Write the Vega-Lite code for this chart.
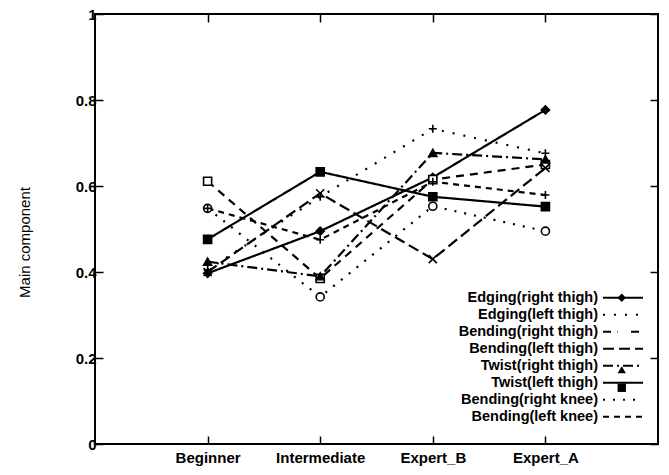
{
  "$schema": "https://vega.github.io/schema/vega-lite/v6.json",
  "width": 563,
  "height": 430,
  "autosize": "none",
  "padding": {"left": 95, "top": 14, "right": 11, "bottom": 31},
  "background": "white",
  "config": {
    "view": {"stroke": "black", "strokeWidth": 2},
    "font": "Liberation Sans",
    "axis": {"grid": false, "domain": false, "tickColor": "black", "tickWidth": 1.5, "labelColor": "black", "titleColor": "black"},
    "legend": {"symbolStrokeColor": "black"}
  },
  "data": {
    "values": [
      {"series": "Edging(right thigh)", "level": "Beginner", "value": 0.397},
      {"series": "Edging(right thigh)", "level": "Intermediate", "value": 0.495},
      {"series": "Edging(right thigh)", "level": "Expert_B", "value": 0.62},
      {"series": "Edging(right thigh)", "level": "Expert_A", "value": 0.777},
      {"series": "Edging(left thigh)", "level": "Beginner", "value": 0.405},
      {"series": "Edging(left thigh)", "level": "Intermediate", "value": 0.575},
      {"series": "Edging(left thigh)", "level": "Expert_B", "value": 0.733},
      {"series": "Edging(left thigh)", "level": "Expert_A", "value": 0.676},
      {"series": "Bending(right thigh)", "level": "Beginner", "value": 0.611},
      {"series": "Bending(right thigh)", "level": "Intermediate", "value": 0.385},
      {"series": "Bending(right thigh)", "level": "Expert_B", "value": 0.615},
      {"series": "Bending(right thigh)", "level": "Expert_A", "value": 0.65},
      {"series": "Bending(left thigh)", "level": "Beginner", "value": 0.4},
      {"series": "Bending(left thigh)", "level": "Intermediate", "value": 0.583},
      {"series": "Bending(left thigh)", "level": "Expert_B", "value": 0.43},
      {"series": "Bending(left thigh)", "level": "Expert_A", "value": 0.642},
      {"series": "Twist(right thigh)", "level": "Beginner", "value": 0.424},
      {"series": "Twist(right thigh)", "level": "Intermediate", "value": 0.39},
      {"series": "Twist(right thigh)", "level": "Expert_B", "value": 0.677},
      {"series": "Twist(right thigh)", "level": "Expert_A", "value": 0.662},
      {"series": "Twist(left thigh)", "level": "Beginner", "value": 0.476},
      {"series": "Twist(left thigh)", "level": "Intermediate", "value": 0.633},
      {"series": "Twist(left thigh)", "level": "Expert_B", "value": 0.575},
      {"series": "Twist(left thigh)", "level": "Expert_A", "value": 0.552},
      {"series": "Bending(right knee)", "level": "Beginner", "value": 0.548},
      {"series": "Bending(right knee)", "level": "Intermediate", "value": 0.342},
      {"series": "Bending(right knee)", "level": "Expert_B", "value": 0.553},
      {"series": "Bending(right knee)", "level": "Expert_A", "value": 0.495},
      {"series": "Bending(left knee)", "level": "Beginner", "value": 0.548},
      {"series": "Bending(left knee)", "level": "Intermediate", "value": 0.475},
      {"series": "Bending(left knee)", "level": "Expert_B", "value": 0.61},
      {"series": "Bending(left knee)", "level": "Expert_A", "value": 0.579}
    ]
  },
  "layer": [
    {
      "mark": {"type": "line", "color": "black", "strokeWidth": 2.2},
      "encoding": {
        "x": {
          "field": "level", "type": "nominal",
          "scale": {"type": "point", "domain": ["Beginner", "Intermediate", "Expert_B", "Expert_A"], "padding": 1},
          "axis": {"orient": "bottom", "title": null, "labelAngle": 0, "tickSize": -8, "labelPadding": 14, "labelFontSize": 15, "labelFontWeight": "bold", "labelBaseline": "top"}
        },
        "y": {
          "field": "value", "type": "quantitative",
          "scale": {"domain": [0, 1]},
          "axis": {"orient": "left", "values": [0, 0.2, 0.4, 0.6, 0.8, 1], "format": "~g", "tickSize": -8, "labelPadding": 7, "labelFontSize": 15, "labelFontWeight": "bold",
            "title": "Main component", "titleFontSize": 15, "titleFontWeight": "normal", "titleX": -71, "titleY": 228, "titleAngle": -90, "titleAlign": "center", "titleBaseline": "middle"}
        },
        "strokeDash": {
          "field": "series", "type": "nominal",
          "scale": {
            "domain": ["Edging(right thigh)", "Edging(left thigh)", "Bending(right thigh)", "Bending(left thigh)", "Twist(right thigh)", "Twist(left thigh)", "Bending(right knee)", "Bending(left knee)"],
            "range": [[1, 0], [2, 9], [8, 6], [11, 5], [10, 4, 2, 4], [1, 0], [2, 8], [6, 5]]
          },
          "legend": {
            "orient": "none", "legendX": 400, "legendY": 276.5, "title": null, "padding": 0, "rowPadding": 2,
            "symbolType": "M-4,0H4", "symbolSize": 100, "symbolStrokeWidth": 2.2, "symbolStrokeColor": "black",
            "labelFontSize": 14.5, "labelFontWeight": "bold", "labelColor": "black", "labelAlign": "right", "labelLimit": 300,
            "encode": {
              "labels": {"update": {"x": {"value": 103}}},
              "symbols": {"update": {"x": {"value": 128}}}
            }
          }
        }
      }
    },
    {
      "mark": {"type": "point", "stroke": "black", "strokeWidth": 1.6, "size": 65, "opacity": 1},
      "encoding": {
        "x": {
          "field": "level", "type": "nominal",
          "axis": {"orient": "top", "title": null, "labels": false, "tickSize": -8}
        },
        "y": {
          "field": "value", "type": "quantitative",
          "axis": {"orient": "right", "title": null, "labels": false, "values": [0, 0.2, 0.4, 0.6, 0.8, 1], "tickSize": -8}
        },
        "shape": {
          "field": "series", "type": "nominal", "sort": null,
          "scale": {"range": ["diamond", "M-1,0H1M0,-1V1", "square", "M-1,-1L1,1M-1,1L1,-1", "triangle-up", "square", "circle", "M-1,0H1M0,-1V1"]},
          "legend": {
            "orient": "none", "legendX": 519.5, "legendY": 276.5, "title": null, "padding": 0, "rowPadding": 2,
            "symbolSize": 70, "symbolStrokeWidth": 1.6, "symbolStrokeColor": "black", "symbolOpacity": 1,
            "labelFontSize": 14.5, "labelExpr": "''",
            "encode": {
              "symbols": {
                "enter": {"stroke": {"value": "black"}, "strokeWidth": {"value": 1.6}, "strokeOpacity": {"value": 1}},
                "update": {"fill": {"scale": "fill", "field": "value"}, "stroke": {"value": "black"}, "strokeWidth": {"value": 1.6}, "strokeOpacity": {"value": 1}, "opacity": {"value": 1}}
              }
            }
          }
        },
        "fill": {
          "field": "series", "type": "nominal", "sort": null,
          "scale": {"range": ["black", "black", "white", "black", "black", "black", "white", "black"]},
          "legend": null
        }
      }
    }
  ]
}
